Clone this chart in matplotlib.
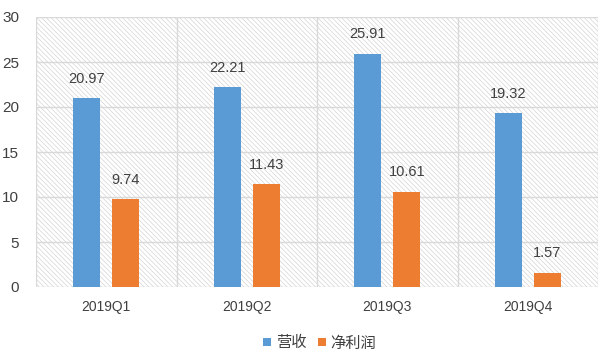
import matplotlib
matplotlib.use("Agg")
import matplotlib.pyplot as plt
import numpy as np
from matplotlib.patches import Rectangle

categories = ["2019Q1", "2019Q2", "2019Q3", "2019Q4"]
revenue = [20.97, 22.21, 25.91, 19.32]
net_profit = [9.74, 11.43, 10.61, 1.57]
series_names = ["营收", "净利润"]
yticks = [0, 5, 10, 15, 20, 25, 30]

plt.rcParams['font.family'] = ['Liberation Sans', 'Noto Sans CJK SC', 'DejaVu Sans']
plt.rcParams['hatch.linewidth'] = 0.45
plt.rcParams['hatch.color'] = '#d0d0d0'

fig = plt.figure(figsize=(6.15, 3.59), dpi=100)
ax = fig.add_axes([36/615, 1-287/359, (598-36)/615, (287-17)/359])

x = np.arange(len(categories))
w = 0.193
off = 0.139
blue = '#5B9BD5'
orange = '#ED7D31'
txt = '#404040'

ax.set_xlim(-0.5, 3.5)
ax.set_ylim(0, 30)

bg = Rectangle((0, 0), 1, 1, transform=ax.transAxes, facecolor='white',
               edgecolor='#d0d0d0', hatch='\\\\\\\\\\\\\\', linewidth=0, zorder=0)
ax.add_patch(bg)

for yv in yticks:
    ax.axhline(yv, color='#d9d9d9', lw=1, zorder=1)
for xv in [-0.5, 0.5, 1.5, 2.5, 3.5]:
    ax.axvline(xv, color='#d9d9d9', lw=1, zorder=1)

b1 = ax.bar(x - off, revenue, w, color=blue, zorder=3, label=series_names[0])
b2 = ax.bar(x + off, net_profit, w, color=orange, zorder=3, label=series_names[1])

for xi, v in zip(x - off, revenue):
    ax.text(xi, v + 1.4, f"{v:.2f}", ha='center', va='bottom', fontsize=10.5, color=txt)
for xi, v in zip(x + off, net_profit):
    ax.text(xi, v + 1.4, f"{v:.2f}", ha='center', va='bottom', fontsize=10.5, color=txt)

for s in ax.spines.values():
    s.set_visible(False)
ax.set_xticks(x)
ax.set_xticklabels(categories, fontsize=10, color=txt)
ax.set_yticks(yticks)
ax.set_yticklabels([str(v) for v in yticks], fontsize=11, color=txt)
ax.tick_params(length=0)
ax.tick_params(axis='x', pad=9)
ax.tick_params(axis='y', pad=12)

leg = fig.legend(handles=[b1, b2], labels=series_names, loc='center',
                 bbox_to_anchor=(0.52, 1-343/359), ncol=2, frameon=False,
                 fontsize=11, handlelength=0.5, handleheight=0.5,
                 handletextpad=0.3, columnspacing=0.8)
for t in leg.get_texts():
    t.set_color(txt)
    t.set_fontfamily(['Noto Sans CJK SC', 'DejaVu Sans'])

fig.savefig("out.png", dpi=100)
